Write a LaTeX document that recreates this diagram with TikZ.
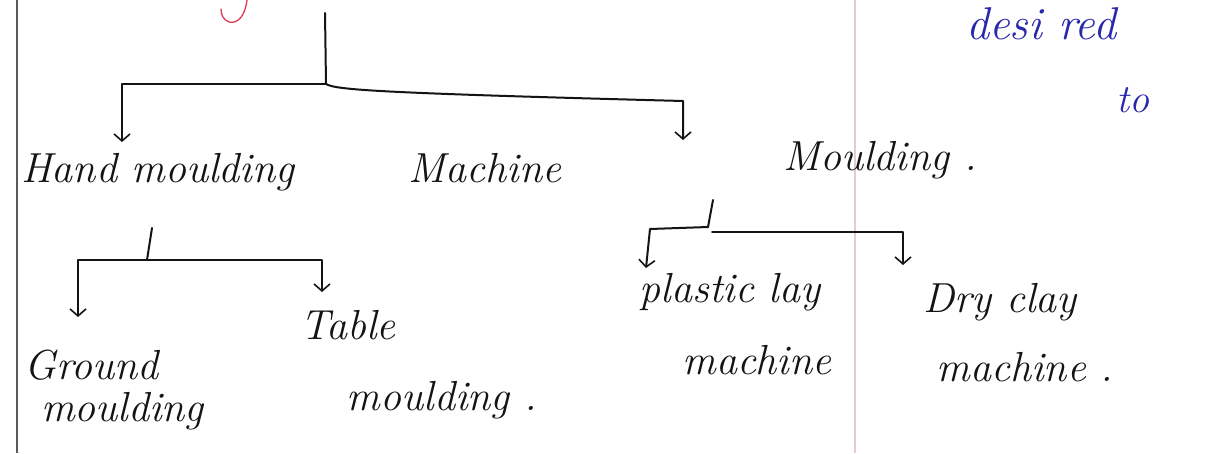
\documentclass[tikz,border=0pt]{standalone}
\usetikzlibrary{arrows.meta}
\definecolor{ink}{RGB}{20,20,20}
\definecolor{blueink}{RGB}{40,40,170}
\definecolor{redink}{RGB}{220,60,80}
\definecolor{marginpink}{RGB}{235,200,205}
\begin{document}
\begin{tikzpicture}[x=1pt,y=-1pt,
  lbl/.style={inner sep=0pt, text=ink, font=\fontsize{42}{44}\selectfont\itshape},
  wire/.style={draw=ink, line width=2pt, line cap=round, line join=round},
  tip/.style={wire, -{Straight Barb[length=7pt,width=16pt,line width=1.6pt]}}]
\useasboundingbox (0,0) rectangle (1205,453);
\clip (0,0) rectangle (1205,453);
\fill[white] (0,0) rectangle (1205,453);

% ruled page margins
\draw[gray!70!black, line width=1.2pt] (17,0) -- (17,453);
\draw[marginpink, line width=2pt] (855,0) -- (855,453);

% red tick fragment at the top
\draw[redink, line width=1.3pt, line cap=round]
  (247,0) .. controls (245,16) and (238,24) .. (229,22)
          .. controls (223,20) and (221,14) .. (221,9);

% blue marginal words
\node[inner sep=0pt, anchor=west, text=blueink, font=\fontsize{46}{48}\selectfont\itshape] (desired) at (966,24) {desi red};
\node[inner sep=0pt, text=blueink, font=\fontsize{40}{42}\selectfont\itshape] (to) at (1133,100) {to};

% labels
\node[lbl] (hand) at (158,172) {Hand moulding};
\node[lbl] (machine) at (485,168) {Machine};
\node[lbl] (moulding) at (880,160) {Moulding .};
\node[lbl, align=left] (ground) at (114,390) {Ground\\[-2pt]\hspace*{0.4em}moulding};
\node[lbl] (table) at (348,325) {Table};
\node[lbl] (tablem) at (442,400) {moulding .};
\node[lbl] (plastic) at (730,292) {plastic lay};
\node[lbl] (plasticm) at (757,360) {machine};
\node[lbl] (dry) at (1000,302) {Dry clay};
\node[lbl] (drym) at (1025,367) {machine .};

% tree: first level
\coordinate (root) at (325,13);
\coordinate (j1) at (326,84);
\coordinate (hl) at (122,142);
\coordinate (mr) at (683,101);
\coordinate (mt) at (683,140);
\draw[wire] (root) -- (j1);
\draw[tip] (j1) -| (hl);
\draw[tip] (j1) .. controls (336,90) and (380,93) .. (mr) -- (mt);

% tree: second level under hand moulding
\coordinate (h2) at (152,228);
\coordinate (j2) at (147,260);
\coordinate (gl) at (78,317);
\coordinate (tr) at (322,292);
\draw[wire] (h2) -- (j2);
\draw[tip] (j2) -| (gl);
\draw[tip] (j2) -| (tr);

% tree: second level under machine moulding
\coordinate (m2) at (713,200);
\coordinate (j3) at (708,227);
\coordinate (j3r) at (712,232);
\coordinate (pl) at (646,268);
\coordinate (dr) at (903,265);
\draw[wire] (m2) -- (j3);
\draw[tip] (j3) -- (650,229) -- (pl);
\draw[tip] (j3r) -| (dr);
\end{tikzpicture}
\end{document}
